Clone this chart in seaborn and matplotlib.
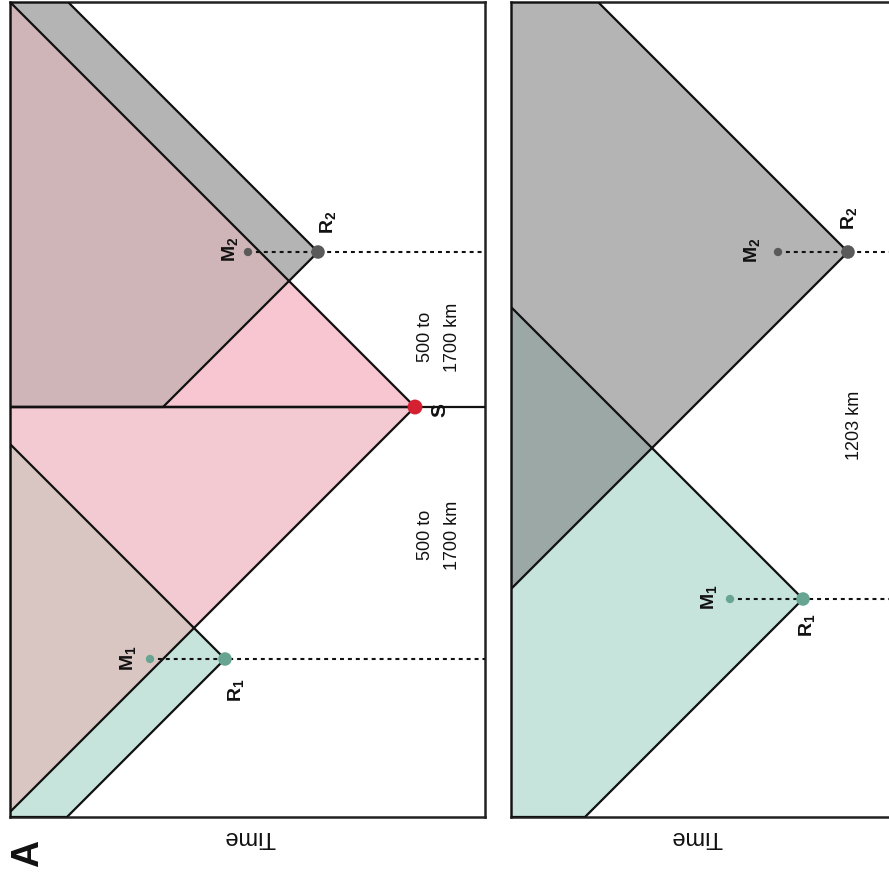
import numpy as np
import pandas as pd
import matplotlib
matplotlib.use("Agg")
import matplotlib.pyplot as plt
import seaborn as sns

# ---- events (time along horizontal axis, position along vertical axis) ----
top_names = ["S", "R1", "M1", "R2", "M2"]
top_time = [70, 260, 335, 167, 237]
top_pos = [405, 657, 657, 250, 250]

bot_names = ["R1", "M1", "R2", "M2"]
bot_time = [89, 162, 44, 114]
bot_pos = [597, 597, 250, 250]

top_span = (475, 815)   # time extent, position extent
bot_span = (381, 815)

top_distance_labels = ["500 to\n1700 km", "500 to\n1700 km"]
bot_distance_labels = ["1203 km"]
axis_label = "Time"
panel_tag = "A"

sns.set_style("white")
plt.rcParams["font.family"] = ["Liberation Sans", "DejaVu Sans"]
plt.rcParams["mathtext.fontset"] = "custom"
plt.rcParams["mathtext.rm"] = "Liberation Sans"
plt.rcParams["mathtext.bf"] = "Liberation Sans:bold"

PINK_UP = "#f7c6d1"
PINK_LO = "#f3c9d2"
BROWN_UP = "#cfb4b8"
BROWN_LO = "#d9c6c3"
GREY = "#b4b4b4"
TEAL = "#c6e3dc"
DARK = "#9ba8a6"
DOT = {"S": "#d42030", "R1": "#67a592", "M1": "#67a592",
       "R2": "#5a5a5a", "M2": "#5a5a5a"}
DOT_SIZE = {"S": 115, "R1": 95, "R2": 95, "M1": 36, "M2": 36}


def clip(poly, a, b, c):
    """Keep the part of a polygon where a*t + b*y + c <= 0."""
    out = []
    n = len(poly)
    for i in range(n):
        p, q = poly[i], poly[(i + 1) % n]
        fp = a * p[0] + b * p[1] + c
        fq = a * q[0] + b * q[1] + c
        if fp <= 0:
            out.append(p)
        if (fp < 0 < fq) or (fq < 0 < fp):
            s = fp / (fp - fq)
            out.append((p[0] + s * (q[0] - p[0]), p[1] + s * (q[1] - p[1])))
    return out


def cone(t0, y0):
    return [(-1, 0, t0), (-1, 1, t0 - y0), (-1, -1, t0 + y0)]


def region(span, planes):
    T, H = span
    poly = [(0, 0), (T, 0), (T, H), (0, H)]
    for pl in planes:
        poly = clip(poly, *pl)
    return poly


def below(y):   # position >= y (lower in the panel)
    return [(0, -1, y)]


def above(y):   # position <= y
    return [(0, 1, -y)]


def fill(ax, poly, color):
    if poly:
        xs, ys = zip(*poly)
        ax.fill(xs, ys, facecolor=color, edgecolor="none", zorder=1)


def outline(ax, poly):
    if poly:
        xs, ys = zip(*poly)
        ax.fill(xs, ys, facecolor="none", edgecolor="#111111", lw=1.6,
                zorder=3, joinstyle="miter")


def setup(ax, span):
    ax.set_xlim(span[0], 0)
    ax.set_ylim(span[1], 0)
    ax.set_xticks([])
    ax.set_yticks([])
    ax.set_xlabel("")
    ax.set_ylabel("")
    for sp in ax.spines.values():
        sp.set_visible(True)
        sp.set_color("#222222")
        sp.set_linewidth(1.8)


def events(ax, names, times, pos, span, offsets):
    df = pd.DataFrame({"name": names, "time": times, "position": pos})
    ev = {n: (t, p) for n, t, p in zip(names, times, pos)}
    # dotted receiver-to-marker lines, running out to the panel edge
    for r, m in (("R1", "M1"), ("R2", "M2")):
        line = pd.DataFrame({"time": [ev[m][0], 0], "position": [ev[m][1]] * 2})
        sns.lineplot(data=line, x="time", y="position", ax=ax, color="#111111",
                     lw=1.5, linestyle=(0, (1.9, 1.9)), sort=False,
                     estimator=None, zorder=4)
    for n in names:
        sub = df[df["name"] == n]
        sns.scatterplot(data=sub, x="time", y="position", ax=ax, color=DOT[n],
                        s=DOT_SIZE[n], edgecolor="none", zorder=5, legend=False)
        if n == "S":
            txt = r"$\mathbf{S}$"
            fs = 15
        else:
            txt = r"$\mathbf{%s}_{\mathbf{%s}}$" % (n[0], n[1])
            fs = 14
        ax.annotate(txt, xy=ev[n], xytext=offsets[n], textcoords="offset pixels",
                    rotation=90, ha="center", va="center", fontsize=fs,
                    color="#111111", zorder=6)
    setup(ax, span)


fig = plt.figure(figsize=(8.89, 8.78), dpi=100)
W, Hf = 889, 878
ax1 = fig.add_axes([10 / W, (Hf - 818) / Hf, 475 / W, 815 / Hf])
ax2 = fig.add_axes([511 / W, (Hf - 818) / Hf, 381 / W, 815 / Hf])

# ---- top panel ----
ev1 = {n: (t, p) for n, t, p in zip(top_names, top_time, top_pos)}
S, R1, R2 = ev1["S"], ev1["R1"], ev1["R2"]
wl = S[1]
s_up = region(top_span, cone(*S) + above(wl))
s_lo = region(top_span, cone(*S) + below(wl))
r2 = region(top_span, cone(*R2) + above(wl))
r1 = region(top_span, cone(*R1) + below(wl))
r2s = region(top_span, cone(*R2) + cone(*S) + above(wl))
r1s = region(top_span, cone(*R1) + cone(*S) + below(wl))
fill(ax1, s_up, PINK_UP)
fill(ax1, s_lo, PINK_LO)
fill(ax1, r2, GREY)
fill(ax1, r1, TEAL)
fill(ax1, r2s, BROWN_UP)
fill(ax1, r1s, BROWN_LO)
for p in (s_up, s_lo, r2, r1):
    outline(ax1, p)
ax1.plot([0, top_span[0]], [wl, wl], color="#111111", lw=1.6, zorder=3)

events(ax1, top_names, top_time, top_pos, top_span,
       {"S": (26, -2), "R1": (12, -30), "M1": (-21, 2),
        "R2": (11, 31), "M2": (-17, 4)})
ax1.text(46, 334, top_distance_labels[0], rotation=90, ha="center",
         va="center", fontsize=13, linespacing=1.75, color="#111111")
ax1.text(46, 532, top_distance_labels[1], rotation=90, ha="center",
         va="center", fontsize=13, linespacing=1.75, color="#111111")

# ---- bottom panel ----
ev2 = {n: (t, p) for n, t, p in zip(bot_names, bot_time, bot_pos)}
c2 = region(bot_span, cone(*ev2["R2"]))
c1 = region(bot_span, cone(*ev2["R1"]))
c12 = region(bot_span, cone(*ev2["R2"]) + cone(*ev2["R1"]))
fill(ax2, c2, GREY)
fill(ax2, c1, TEAL)
fill(ax2, c12, DARK)
for p in (c2, c1):
    outline(ax2, p)
events(ax2, bot_names, bot_time, bot_pos, bot_span,
       {"R1": (5, -25), "M1": (-20, 3), "R2": (2, 35), "M2": (-25, 3)})
ax2.text(37, 422, bot_distance_labels[0], rotation=90, ha="center",
         va="center", fontsize=13, color="#111111")

# ---- axis captions and panel tag ----
fig.text(250 / W, 1 - 837 / Hf, axis_label, rotation=180, ha="center",
         va="center", fontsize=17, color="#111111")
fig.text(697 / W, 1 - 837 / Hf, axis_label, rotation=180, ha="center",
         va="center", fontsize=17, color="#111111")
fig.text(28 / W, 1 - 853 / Hf, panel_tag, rotation=90, ha="center",
         va="center", fontsize=27, fontweight="bold", color="#111111")

fig.savefig("out.png", dpi=100, facecolor="white")
